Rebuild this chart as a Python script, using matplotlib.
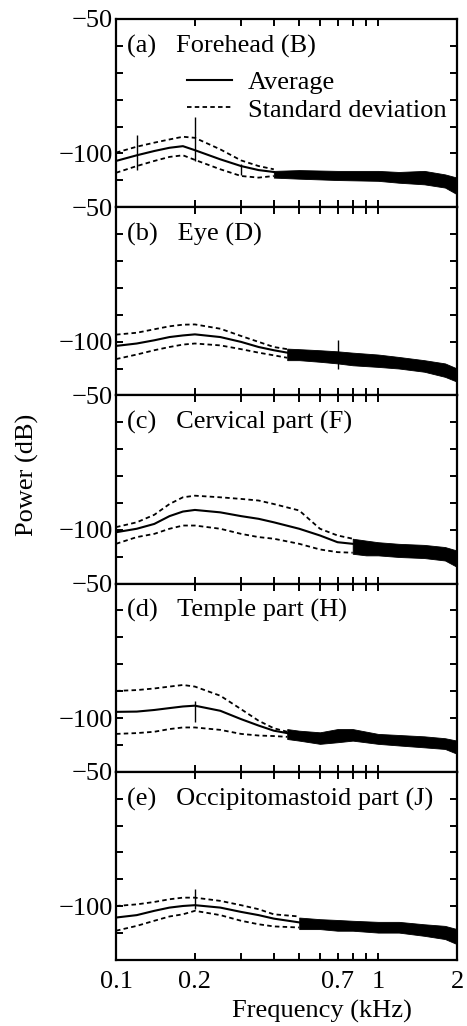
import matplotlib.pyplot as plt
from matplotlib.ticker import FixedLocator, NullFormatter, FuncFormatter

plt.rcParams['font.family'] = ['Liberation Serif', 'DejaVu Serif']

# panel titles
titles = ['(a)   Forehead (B)', '(b)   Eye (D)', '(c)   Cervical part (F)',
          '(d)   Temple part (H)', '(e)   Occipitomastoid part (J)']

# (a) forehead - smooth part of spectrum (kHz, dB)
freq_a = [0.1, 0.12, 0.14, 0.16, 0.18, 0.2, 0.25, 0.3, 0.35, 0.4]
avg_a = [-102.8, -100.7, -99.1, -97.9, -97.3, -98.8, -102.2, -104.7, -106.2, -106.9]
up_a = [-99.7, -97.5, -96.0, -94.8, -93.8, -94.2, -98.5, -102.6, -104.7, -105.9]
lo_a = [-107.2, -104.7, -102.8, -101.3, -100.7, -102.4, -105.9, -108.4, -109.0, -108.4]
# noisy high-frequency part: envelope of the band
band_f_a = [0.4, 0.5, 0.7, 1.0, 1.2, 1.5, 1.8, 2.0]
band_hi_a = [-106.5, -106.2, -106.5, -106.5, -106.9, -106.5, -107.8, -109.0]
band_lo_a = [-109.0, -109.4, -109.9, -110.2, -110.9, -111.5, -112.7, -115.2]
spike_f_a = [0.12, 0.2, 0.3]
spike_top_a = [-93.3, -86.5, -104.0]
spike_bot_a = [-106.0, -103.0, -108.0]

# (b) eye
freq_b = [0.1, 0.12, 0.14, 0.16, 0.18, 0.2, 0.25, 0.3, 0.35, 0.4, 0.45]
avg_b = [-101.6, -100.7, -99.5, -98.3, -97.7, -97.3, -98.3, -100.1, -102.0, -103.2, -104.1]
up_b = [-97.4, -96.7, -95.4, -94.3, -93.7, -93.6, -95.2, -97.9, -100.1, -102.0, -102.8]
lo_b = [-106.5, -104.8, -103.2, -102.0, -101.1, -100.7, -101.4, -102.8, -104.1, -105.1, -106.0]
band_f_b = [0.45, 0.5, 0.6, 0.7, 0.8, 1.0, 1.2, 1.5, 1.8, 2.0]
band_hi_b = [-102.6, -102.8, -103.2, -103.6, -104.1, -104.8, -105.7, -106.9, -108.1, -110.0]
band_lo_b = [-106.9, -106.9, -107.5, -108.1, -108.8, -109.4, -110.0, -111.2, -113.1, -114.9]
spike_f_b = [0.7]
spike_top_b = [-99.4]
spike_bot_b = [-110.0]

# (c) cervical part
freq_c = [0.1, 0.12, 0.14, 0.16, 0.18, 0.2, 0.25, 0.3, 0.35, 0.4, 0.5, 0.6, 0.7, 0.8]
avg_c = [-100.9, -99.6, -97.8, -94.9, -93.2, -92.6, -93.5, -94.9, -95.9, -97.2,
         -99.6, -102.1, -104.6, -105.2]
up_c = [-99.0, -97.2, -94.4, -90.4, -87.9, -87.3, -87.9, -88.5, -89.1, -90.4,
        -92.8, -99.6, -102.1, -103.3]
lo_c = [-105.2, -102.7, -101.5, -99.6, -98.4, -98.4, -99.6, -101.5, -102.7, -103.3,
        -105.2, -107.3, -108.3, -108.5]
band_f_c = [0.8, 0.9, 1.0, 1.2, 1.5, 1.8, 2.0]
band_hi_c = [-103.3, -104.0, -104.6, -105.2, -105.6, -106.4, -107.7]
band_lo_c = [-108.9, -109.5, -109.5, -110.1, -110.5, -111.4, -113.8]
spike_f_c = []
spike_top_c = []
spike_bot_c = []

# (d) temple part
freq_d = [0.1, 0.12, 0.14, 0.16, 0.18, 0.2, 0.25, 0.3, 0.35, 0.4, 0.45]
avg_d = [-97.7, -97.6, -97.0, -96.3, -95.7, -95.4, -97.3, -100.4, -102.8, -104.7, -105.6]
up_d = [-89.9, -89.6, -89.0, -88.3, -87.7, -88.3, -91.7, -96.7, -101.0, -103.8, -105.1]
lo_d = [-105.9, -105.6, -105.1, -104.1, -103.5, -103.5, -104.4, -105.9, -106.5, -106.7, -107.0]
band_f_d = [0.45, 0.5, 0.6, 0.7, 0.8, 1.0, 1.2, 1.5, 1.8, 2.0]
band_hi_d = [-104.1, -104.7, -105.3, -104.1, -104.1, -105.9, -106.3, -106.8, -107.5, -108.4]
band_lo_d = [-107.8, -108.4, -109.6, -109.0, -108.4, -109.6, -110.2, -110.9, -111.5, -113.3]
spike_f_d = [0.2]
spike_top_d = [-93.6]
spike_bot_d = [-101.6]

# (e) occipitomastoid part
freq_e = [0.1, 0.12, 0.14, 0.16, 0.18, 0.2, 0.25, 0.3, 0.35, 0.4, 0.5]
avg_e = [-104.2, -103.3, -101.7, -100.5, -99.9, -99.6, -100.5, -102.1, -103.3, -104.6, -106.0]
up_e = [-99.9, -99.3, -98.4, -97.4, -96.8, -96.8, -98.0, -99.6, -101.1, -103.0, -103.8]
lo_e = [-109.1, -107.3, -105.4, -103.8, -103.0, -101.7, -103.3, -105.4, -106.7, -107.5, -107.9]
band_f_e = [0.5, 0.6, 0.7, 0.8, 1.0, 1.2, 1.5, 1.8, 2.0]
band_hi_e = [-104.2, -104.8, -105.1, -105.4, -105.8, -105.8, -106.7, -107.3, -108.5]
band_lo_e = [-108.5, -108.5, -109.1, -109.1, -109.8, -109.8, -111.0, -112.2, -114.1]
spike_f_e = [0.2]
spike_top_e = [-93.7]
spike_bot_e = [-101.1]

panels = [
    (freq_a, avg_a, up_a, lo_a, band_f_a, band_hi_a, band_lo_a, spike_f_a, spike_top_a, spike_bot_a),
    (freq_b, avg_b, up_b, lo_b, band_f_b, band_hi_b, band_lo_b, spike_f_b, spike_top_b, spike_bot_b),
    (freq_c, avg_c, up_c, lo_c, band_f_c, band_hi_c, band_lo_c, spike_f_c, spike_top_c, spike_bot_c),
    (freq_d, avg_d, up_d, lo_d, band_f_d, band_hi_d, band_lo_d, spike_f_d, spike_top_d, spike_bot_d),
    (freq_e, avg_e, up_e, lo_e, band_f_e, band_hi_e, band_lo_e, spike_f_e, spike_top_e, spike_bot_e),
]

x_major = [0.1, 0.2, 0.7, 1, 2]
x_minor = [0.3, 0.4, 0.5, 0.6, 0.8, 0.9]

fig = plt.figure(figsize=(4.67, 10.26), dpi=100)
axes = fig.subplots(5, 1, sharex=True)
fig.subplots_adjust(left=0.2484, right=0.9786, top=0.9815, bottom=0.0643, hspace=0)

FS = 19
for i, ax in enumerate(axes):
    f, avg, up, lo, bf, bhi, blo, sf, stop, sbot = panels[i]
    ax.fill_between(bf, blo, bhi, color='black', lw=0.6, edgecolor='black')
    l1, = ax.plot(f, avg, color='black', lw=1.5, label='Average')
    l2, = ax.plot(f, up, color='black', lw=1.3, ls=(0, (2.5, 1.8)), label='Standard deviation')
    ax.plot(f, lo, color='black', lw=1.3, ls=(0, (2.5, 1.8)))
    if sf:
        ax.vlines(sf, sbot, stop, color='black', lw=1.0)

    ax.set_xscale('log')
    ax.set_xlim(0.1, 2)
    ax.set_ylim(-120, -50)
    ax.xaxis.set_major_locator(FixedLocator(x_major))
    ax.xaxis.set_minor_locator(FixedLocator(x_minor))
    ax.xaxis.set_major_formatter(FuncFormatter(lambda v, p: '%g' % v))
    ax.xaxis.set_minor_formatter(NullFormatter())
    ax.yaxis.set_major_locator(FixedLocator([-50, -100]))
    ax.yaxis.set_minor_locator(FixedLocator([-60, -70, -80, -90, -110]))
    ax.tick_params(which='both', direction='in', top=True, right=True,
                   length=5, width=1.4, labelsize=FS)
    ax.tick_params(axis='y', pad=2)
    ax.tick_params(axis='x', pad=8)
    for t in ax.xaxis.get_major_ticks():
        if t.get_loc() == 1:
            t.tick1line.set_markersize(10)
            t.tick2line.set_markersize(10)
    for s in ax.spines.values():
        s.set_linewidth(1.6)
    if i < 4:
        ax.tick_params(axis='x', labelbottom=False)

    ax.text(0.032, 0.855, titles[i], transform=ax.transAxes, fontsize=FS,
            ha='left', va='center')

    if i == 0:
        ax.legend(handles=[l1, l2], loc='upper left', bbox_to_anchor=(0.17, 0.795),
                  frameon=False, fontsize=FS, handlelength=1.7, handletextpad=0.6,
                  borderpad=0, labelspacing=0.15)

fig.text(0.058, 1 - 475 / 1026, 'Power (dB)', rotation=90, fontsize=FS,
         ha='center', va='center')
fig.text(322 / 467, 1 - 1011 / 1026, 'Frequency (kHz)', fontsize=FS,
         ha='center', va='center')

fig.savefig('out.png', dpi=100)
